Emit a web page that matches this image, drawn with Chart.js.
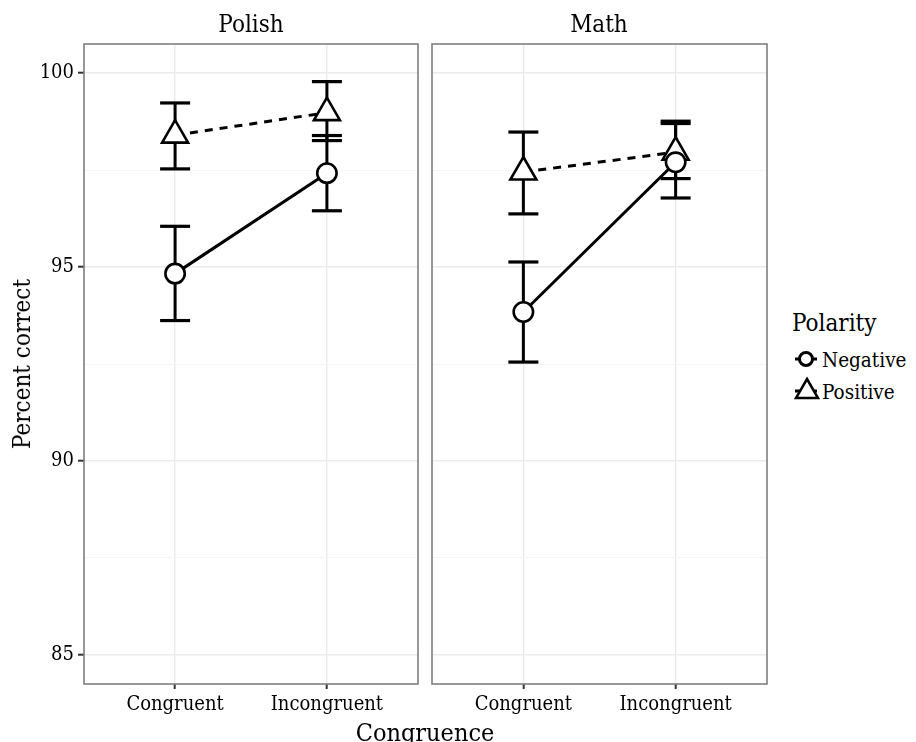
<!DOCTYPE html>
<html><head><meta charset="utf-8">
<script src="https://cdn.jsdelivr.net/npm/chart.js@4/dist/chart.umd.min.js"></script>
<style>
html,body{margin:0;padding:0;background:#fff;}
body{width:916px;height:742px;position:relative;overflow:hidden;font-family:"DejaVu Serif Condensed","DejaVu Serif",serif;color:#000;}
canvas{position:absolute;}
.t{position:absolute;white-space:nowrap;line-height:1;}
</style></head><body>
<canvas id="cA" width="422" height="742" style="left:0px;top:0px"></canvas>
<canvas id="cB" width="344" height="742" style="left:428px;top:0px"></canvas>
<div class="t" id="stripA" style="font-size:24px;left:251px;top:24px;transform:translate(-50%,-50%)"></div>
<div class="t" id="stripB" style="font-size:24px;left:599px;top:24px;transform:translate(-50%,-50%)"></div>
<div class="t" id="ytitle" style="font-size:24px;left:22px;top:364px;transform:translate(-50%,-50%) rotate(-90deg)">Percent correct</div>
<div class="t" id="xtitle" style="font-size:25px;left:425px;top:732px;transform:translate(-50%,-50%)">Congruence</div>
<div class="t" style="font-size:24px;left:792px;top:323px;transform:translateY(-50%)">Polarity</div>
<svg style="position:absolute;left:790px;top:344px" width="34" height="62">
  <line x1="5" y1="15" x2="27" y2="15" stroke="#000" stroke-width="3"/>
  <circle cx="16" cy="15" r="6.5" fill="#fff" stroke="#000" stroke-width="3"/>
  <line x1="5" y1="47" x2="27" y2="47" stroke="#000" stroke-width="3" stroke-dasharray="5,4"/>
  <polygon points="17,35 28,54 6,54" fill="#fff" stroke="#000" stroke-width="2.5"/>
</svg>
<div class="t" style="font-size:20.5px;left:822px;top:360px;transform:translateY(-50%)">Negative</div>
<div class="t" style="font-size:20.5px;left:822px;top:392px;transform:translateY(-50%)">Positive</div>
<script>
// ---- data ----
const categories = ['Congruent', 'Incongruent'];
const panels = ['Polish', 'Math'];
const seriesNames = ['Negative', 'Positive'];
const yTicks = [85, 87.5, 90, 92.5, 95, 97.5, 100];
const yMin = 84.25, yMax = 100.75;

const polishNegMean = [94.83, 97.42];
const polishNegLow  = [93.62, 96.45];
const polishNegHigh = [96.05, 98.39];
const polishPosMean = [98.40, 98.98];
const polishPosLow  = [97.53, 98.26];
const polishPosHigh = [99.23, 99.78];

const mathNegMean = [93.84, 97.70];
const mathNegLow  = [92.55, 96.78];
const mathNegHigh = [95.13, 98.76];
const mathPosMean = [97.45, 97.96];
const mathPosLow  = [96.37, 97.28];
const mathPosHigh = [98.48, 98.70];

document.getElementById('stripA').textContent = panels[0];
document.getElementById('stripB').textContent = panels[1];

const FONT = '"DejaVu Serif Condensed", "DejaVu Serif", serif';
const panelBox = {
  id: 'panelBox',
  afterDraw(chart) {
    const a = chart.chartArea, ctx = chart.ctx;
    ctx.save();
    ctx.strokeStyle = '#7f7f7f';
    ctx.lineWidth = 1.6;
    ctx.strokeRect(a.left, a.top, a.right - a.left, a.bottom - a.top);
    ctx.restore();
  }
};

function pts(vals) { return categories.map((c, i) => ({x: i, y: vals[i]})); }
function errPts(low, high) {
  const d = [];
  categories.forEach((c, i) => {
    d.push({x: i, y: low[i]}, {x: i, y: high[i]});
    if (i < categories.length - 1) d.push({x: i + 0.5, y: null});
  });
  return d;
}
function datasets(nm, nl, nh, pm, pl, ph) {
  const errStyle = {
    borderColor: '#000', borderWidth: 3, pointStyle: 'line', pointRadius: 15,
    pointBorderWidth: 3.2, pointBorderColor: '#000', pointBackgroundColor: '#000',
    spanGaps: false, tension: 0
  };
  return [
    {label: seriesNames[0], data: pts(nm), borderColor: '#000', borderWidth: 3,
      pointStyle: 'circle', pointRadius: 9.7, pointBorderWidth: 2.6,
      pointBackgroundColor: '#fff', pointBorderColor: '#000', order: 1},
    {label: seriesNames[1], data: pts(pm), borderColor: '#000', borderWidth: 3,
      borderDash: [8, 7], pointStyle: 'triangle', pointRadius: 15, pointBorderWidth: 2.6,
      pointBackgroundColor: '#fff', pointBorderColor: '#000', order: 2},
    Object.assign({label: 'err ' + seriesNames[0], data: errPts(nl, nh), order: 3}, errStyle),
    Object.assign({label: 'err ' + seriesNames[1], data: errPts(pl, ph), order: 4}, errStyle)
  ];
}

function makeChart(id, ds, showY, padding) {
  return new Chart(document.getElementById(id), {
    type: 'line',
    data: {datasets: ds},
    options: {
      responsive: false, animation: false, devicePixelRatio: 1,
      layout: {padding: padding, autoPadding: false},
      plugins: {legend: {display: false}, tooltip: {enabled: false}},
      scales: {
        x: {
          type: 'linear', min: -0.6, max: 1.6,
          afterBuildTicks: s => { s.ticks = categories.map((c, i) => ({value: i})); },
          afterFit: s => { s.height = 58; s.paddingLeft = 0; s.paddingRight = 0; },
          ticks: {callback: v => categories[v], font: {family: FONT, size: 20}, color: '#000',
                  padding: 4, maxRotation: 0, autoSkip: false},
          grid: {color: '#ebebeb', lineWidth: 1.4, tickColor: '#333', tickLength: 5, tickWidth: 2},
          border: {display: false}
        },
        y: {
          type: 'linear', min: yMin, max: yMax,
          afterBuildTicks: s => { s.ticks = yTicks.map(v => ({value: v})); },
          afterFit: s => { s.width = showY ? 84 : 0; s.paddingTop = 0; s.paddingBottom = 0; },
          ticks: {display: showY, callback: v => (v % 5 === 0 ? String(v) : ''),
                  font: {family: FONT, size: 20}, color: '#000', padding: 4},
          grid: {
            color: c => (c.tick && c.tick.value % 5 === 0 ? '#ebebeb' : '#f5f5f5'),
            lineWidth: c => (c.tick && c.tick.value % 5 === 0 ? 1.4 : 1),
            tickColor: c => (c.tick && c.tick.value % 5 === 0 ? '#333' : 'rgba(0,0,0,0)'),
            drawTicks: showY, tickLength: 6, tickWidth: 2
          },
          border: {display: false}
        }
      }
    },
    plugins: [panelBox]
  });
}

makeChart('cA', datasets(polishNegMean, polishNegLow, polishNegHigh, polishPosMean, polishPosLow, polishPosHigh),
  true, {left: 0, top: 44, right: 4, bottom: 0});
makeChart('cB', datasets(mathNegMean, mathNegLow, mathNegHigh, mathPosMean, mathPosLow, mathPosHigh),
  false, {left: 4, top: 44, right: 5, bottom: 0});
</script>
</body></html>
